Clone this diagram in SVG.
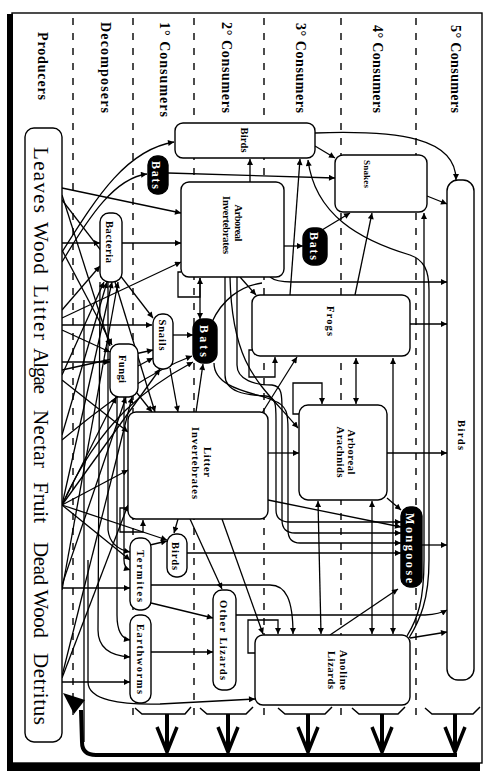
<svg xmlns="http://www.w3.org/2000/svg" width="491" height="773" viewBox="0 0 491 773">
<defs>
<marker id="a" viewBox="0 0 10 10" refX="10" refY="5" markerWidth="7" markerHeight="6" orient="auto-start-reverse" markerUnits="userSpaceOnUse"><path d="M0,0 L10,5 L0,10 z" fill="#000"/></marker>
<style>
.c{fill:none;stroke:#000;stroke-width:1.3;marker-end:url(#a)}
.dd{marker-start:url(#a)}
.p{fill:none;stroke:#000;stroke-width:1.3}
.sep{stroke:#000;stroke-width:1.4;stroke-dasharray:7 8}
.box{fill:#fff;stroke:#000;stroke-width:1.4}
.blk{fill:#000;stroke:#000;stroke-width:1.4}
.hd{font-family:"Liberation Serif",serif;font-weight:bold;font-size:14px;fill:#000}
.pr{font-family:"Liberation Serif",serif;font-size:21px;fill:#000}
.lb{font-family:"Liberation Serif",serif;font-weight:bold;font-size:10.5px;fill:#000;text-anchor:middle}
.wl{font-family:"Liberation Serif",serif;font-weight:bold;font-size:12px;fill:#fff;text-anchor:middle}
.br{fill:none;stroke:#000;stroke-width:1.5}
.th{fill:none;stroke:#000;stroke-width:4}
.chev{fill:none;stroke:#000;stroke-width:3.5;stroke-linejoin:miter}
</style>
</defs>
<rect width="491" height="773" fill="#fff"/>
<g id="frame">
<rect x="12" y="13" width="470" height="750" fill="none" stroke="#000" stroke-width="1.4"/>
<rect x="7" y="14" width="6" height="757" fill="#000"/>
<rect x="7" y="763" width="473" height="8" fill="#000"/>
</g>
<g id="separators">
<line class="sep" x1="73" y1="18" x2="73" y2="715"/>
<line class="sep" x1="133" y1="18" x2="133" y2="715"/>
<line class="sep" x1="194" y1="18" x2="194" y2="715"/>
<line class="sep" x1="264" y1="18" x2="264" y2="715"/>
<line class="sep" x1="341" y1="18" x2="341" y2="715"/>
<line class="sep" x1="416" y1="18" x2="416" y2="715"/>
</g>
<g id="headers">
<text class="hd" transform="translate(38,32) rotate(90)" textLength="68">Producers</text>
<text class="hd" transform="translate(101,22) rotate(90)" textLength="91">Decomposers</text>
<text class="hd" transform="translate(160,22) rotate(90)" textLength="95">1° Consumers</text>
<text class="hd" transform="translate(222,22) rotate(90)" textLength="91">2° Consumers</text>
<text class="hd" transform="translate(296,23) rotate(90)" textLength="90">3° Consumers</text>
<text class="hd" transform="translate(373,25) rotate(90)" textLength="88">4° Consumers</text>
<text class="hd" transform="translate(451,25) rotate(90)" textLength="88">5° Consumers</text>
</g>
<g id="connectors">
<path class="c" d="M62,252 C95,200 125,150 174,142"/>
<path class="c" d="M62,262 C90,215 115,178 147,174"/>
<path class="c" d="M62,188 L181,213"/>
<path class="c" d="M62,195 L110,346"/>
<path class="c" d="M62,200 L153,318"/>
<path class="c" d="M62,243 L100,243"/>
<path class="c" d="M62,250 L112,345"/>
<path class="c" d="M62,310 L100,266"/>
<path class="c" d="M62,318 L181,262"/>
<path class="c" d="M62,325 L152,325"/>
<path class="c" d="M62,330 L110,352"/>
<path class="c" d="M62,362 L110,362"/>
<path class="c" d="M62,370 L153,350"/>
<path class="c" d="M62,375 L104,282"/>
<path class="c" d="M62,380 L128,432"/>
<path class="c" d="M62,435 L107,282"/>
<path class="c" d="M62,440 C110,400 150,372 192,356"/>
<path class="c" d="M62,505 C100,420 150,385 193,362"/>
<path class="c" d="M62,505 L167,540"/>
<path class="c" d="M62,505 L128,470"/>
<path class="c" d="M62,505 L116,397"/>
<path class="c" d="M62,505 L112,282"/>
<path class="c" d="M62,505 L160,369"/>
<path class="c" d="M62,505 L130,560"/>
<path class="c" d="M62,588 L130,588"/>
<path class="c" d="M62,585 L126,397"/>
<path class="c" d="M62,590 L118,282"/>
<path class="c" d="M62,682 L130,682"/>
<path class="c" d="M62,678 L128,505"/>
<path class="c" d="M62,676 L132,397"/>
<path class="c" d="M122,243 L181,243"/>
<path class="c" d="M115,282 L155,412"/>
<path class="c" d="M100,282 L98,630 Q98,655 130,657"/>
<path class="c" d="M117,397 L117,615 Q117,638 130,640"/>
<path class="c" d="M137,393 L152,412"/>
<path class="c" d="M138,366 L153,358"/>
<path class="c" d="M108,282 L108,530 Q110,548 130,552"/>
<path class="c" d="M124,397 L124,560 Q124,568 130,570"/>
<path class="c" d="M173,335 L193,335"/>
<path class="c" d="M168,173 L335,178"/>
<path class="c" d="M170,368 L178,412"/>
<path class="c" d="M196,412 L203,364"/>
<path class="c" d="M200,278 L200,319"/>
<path class="c" d="M315,146 L335,158"/>
<path class="c" d="M315,133 C400,130 456,138 456,180"/>
<path class="c" d="M427,196 L447,204"/>
<path class="c" d="M250,182 L250,159"/>
<path class="c" d="M290,295 L300,159"/>
<path class="c" d="M284,246 L303,246"/>
<path class="c" d="M322,230 L350,213"/>
<path class="c" d="M355,295 L372,213"/>
<path class="c" d="M407,636 C418,618 424,600 424,560 L424,213"/>
<path class="c" d="M409,638 C420,620 429,600 429,560 L429,290 C429,270 424,260 410,255 C360,240 315,215 308,160"/>
<path class="c" d="M240,277 L256,295"/>
<path class="c" d="M270,277 Q276,282 292,282 L447,282"/>
<path class="p" d="M212,322 C222,300 240,286 262,283"/>
<path class="c" d="M410,324 L447,324"/>
<path class="c" d="M387,453 L447,453"/>
<path class="c" d="M268,453 L299,453"/>
<path class="c dd" d="M356,358 L356,404"/>
<path class="c" d="M299,414 L293,414 L293,383 L322,383 L322,404"/>
<path class="c" d="M252,350 L249,350 L249,377 L275,377 L275,357"/>
<path class="c" d="M181,272 L178,272 L178,297 L200,297 L200,278"/>
<path class="c" d="M128,508 L120,508 L120,532 L143,532 L143,520"/>
<path class="c" d="M255,653 L248,653 L248,620 L278,620 L278,634"/>
<path class="c" d="M262,413 L297,357"/>
<path class="c" d="M230,277 C232,370 262,385 298,428"/>
<path class="c" d="M225,277 L225,375 C225,392 245,395 266,396 C276,397 276,405 276,420 L276,510 Q276,522 290,522 L401,522"/>
<path class="c" d="M237,277 L237,365 C237,380 255,385 272,385 C282,386 282,395 282,410 L282,520 Q282,533 295,533 L401,533"/>
<path class="c" d="M214,363 C214,390 258,393 272,400 C288,405 288,415 288,430 L288,530 Q288,543 300,543 L401,543"/>
<path class="c" d="M187,553 L401,553"/>
<path class="c" d="M268,500 L401,527"/>
<path class="c" d="M387,498 L401,510"/>
<path class="c" d="M330,635 L398,589"/>
<path class="c" d="M421,545 L447,545"/>
<path class="c" d="M410,638 L447,632"/>
<path class="c" d="M236,615 L425,615 Q440,614 447,610"/>
<path class="c dd" d="M372,501 L372,634"/>
<path class="c dd" d="M393,358 L393,634"/>
<path class="c dd" d="M318,501 L321,634"/>
<path class="c" d="M151,585 L270,585 C286,585 293,600 293,634"/>
<path class="c" d="M222,519 L263,634"/>
<path class="c" d="M190,519 L222,589"/>
<path class="c" d="M178,519 L174,533"/>
<path class="c" d="M150,545 L167,541"/>
<path class="c" d="M151,603 L213,618"/>
<path class="c" d="M151,652 L213,652"/>
<path class="c" d="M88,560 L88,682 C88,700 120,705 160,704 L255,699"/>
<path class="p" d="M84,300 L84,742"/>
</g>
<g id="decomposition">
<path class="br" d="M135,708 L142,714 L185,714 L191,707"/>
<path class="br" d="M200,708 L207,714 L246,714 L253,707"/>
<path class="br" d="M278,708 L285,714 L325,714 L332,707"/>
<path class="br" d="M352,708 L359,714 L398,714 L405,707"/>
<path class="br" d="M425,708 L432,714 L473,714 L480,707"/>
<line class="th" x1="167" y1="714" x2="167" y2="752"/>
<line class="th" x1="228" y1="714" x2="228" y2="752"/>
<line class="th" x1="308" y1="714" x2="308" y2="752"/>
<line class="th" x1="382" y1="714" x2="382" y2="752"/>
<line class="th" x1="455" y1="714" x2="455" y2="752"/>
<polyline class="chev" points="157,727 167,752 177,727"/>
<polyline class="chev" points="218,727 228,752 238,727"/>
<polyline class="chev" points="298,727 308,752 318,727"/>
<polyline class="chev" points="372,727 382,752 392,727"/>
<polyline class="chev" points="445,727 455,752 465,727"/>
<path class="th" d="M457,755 L96,755 Q82,755 82,742 L81,710"/>
<polygon points="63,693 85,700 74,714" fill="#000"/>
</g>
<g id="producers">
<rect class="box" x="25" y="128" width="37" height="614" rx="9"/>
<text class="pr" transform="translate(34,147) rotate(90)" textLength="66">Leaves</text>
<text class="pr" transform="translate(34,222) rotate(90)" textLength="52">Wood</text>
<text class="pr" transform="translate(34,285) rotate(90)" textLength="55">Litter</text>
<text class="pr" transform="translate(34,348) rotate(90)" textLength="46">Algae</text>
<text class="pr" transform="translate(34,410) rotate(90)" textLength="58">Nectar</text>
<text class="pr" transform="translate(34,482) rotate(90)" textLength="41">Fruit</text>
<text class="pr" transform="translate(34,542) rotate(90)" textLength="96">Dead Wood</text>
<text class="pr" transform="translate(34,653) rotate(90)" textLength="72">Detritus</text>
</g>
<g id="birds-top"><rect class="box" x="175" y="123" width="140" height="35" rx="8"/><text class="lb" transform="translate(241,140) rotate(90)" textLength="25">Birds</text></g>
<g id="bats-1"><rect class="blk" x="148" y="156" width="20" height="38" rx="9"/><text class="wl" transform="translate(152,175) rotate(90)" textLength="28">Bats</text></g>
<g id="arboreal-invertebrates"><rect class="box" x="181" y="182" width="103" height="95" rx="8"/><text class="lb" transform="translate(235,223) rotate(90)" textLength="37">Arboreal</text><text class="lb" transform="translate(223,225) rotate(90)" textLength="58">Invertebrates</text></g>
<g id="bacteria"><rect class="box" x="100" y="213" width="22" height="69" rx="9"/><text class="lb" transform="translate(106,242) rotate(90)" textLength="42">Bacteria</text></g>
<g id="bats-3"><rect class="blk" x="303" y="228" width="24" height="37" rx="10"/><text class="wl" transform="translate(310,246) rotate(90)" textLength="28">Bats</text></g>
<g id="snakes"><rect class="box" x="335" y="155" width="92" height="57" rx="8"/><text class="lb" style="font-size:9px" transform="translate(364,174) rotate(90)" textLength="28">Snakes</text></g>
<g id="birds-5"><rect class="box" x="447" y="180" width="27" height="500" rx="11"/><text class="lb" transform="translate(458,435) rotate(90)" textLength="30">Birds</text></g>
<g id="snails"><rect class="box" x="153" y="314" width="20" height="55" rx="9"/><text class="lb" transform="translate(159,335) rotate(90)" textLength="31">Snails</text></g>
<g id="fungi"><rect class="box" x="110" y="344" width="28" height="53" rx="9"/><text class="lb" transform="translate(119,369) rotate(90)" textLength="28">Fungi</text></g>
<g id="bats-2"><rect class="blk" x="193" y="319" width="24" height="44" rx="10"/><text class="wl" transform="translate(200,341) rotate(90)" textLength="32">Bats</text></g>
<g id="frogs"><rect class="box" x="252" y="295" width="158" height="61" rx="8"/><text class="lb" transform="translate(327,321) rotate(90)" textLength="30">Frogs</text></g>
<g id="arboreal-arachnids"><rect class="box" x="299" y="405" width="88" height="95" rx="9"/><text class="lb" transform="translate(348,452) rotate(90)" textLength="45">Arboreal</text><text class="lb" transform="translate(337,452) rotate(90)" textLength="51">Arachnids</text></g>
<g id="litter-invertebrates"><rect class="box" x="128" y="412" width="140" height="107" rx="8"/><text class="lb" transform="translate(204,462) rotate(90)" textLength="30">Litter</text><text class="lb" transform="translate(192,463) rotate(90)" textLength="72">Invertebrates</text></g>
<g id="mongoose"><rect class="blk" x="401" y="507" width="21" height="80" rx="9"/><text class="wl" transform="translate(406,548) rotate(90)" textLength="70">Mongoose</text></g>
<g id="birds-small"><rect class="box" x="167" y="534" width="20" height="43" rx="9"/><text class="lb" transform="translate(172,556) rotate(90)" textLength="28">Birds</text></g>
<g id="termites"><rect class="box" x="130" y="538" width="21" height="72" rx="9"/><text class="lb" transform="translate(137,576) rotate(90)" textLength="52">Termites</text></g>
<g id="earthworms"><rect class="box" x="130" y="615" width="21" height="88" rx="9"/><text class="lb" transform="translate(137,659) rotate(90)" textLength="70">Earthworms</text></g>
<g id="other-lizards"><rect class="box" x="213" y="590" width="23" height="100" rx="9"/><text class="lb" transform="translate(220,640) rotate(90)" textLength="80">Other Lizards</text></g>
<g id="anoline-lizards"><rect class="box" x="255" y="635" width="155" height="70" rx="8"/><text class="lb" transform="translate(340,670) rotate(90)" textLength="40">Anoline</text><text class="lb" transform="translate(328,670) rotate(90)" textLength="38">Lizards</text></g>
</svg>
